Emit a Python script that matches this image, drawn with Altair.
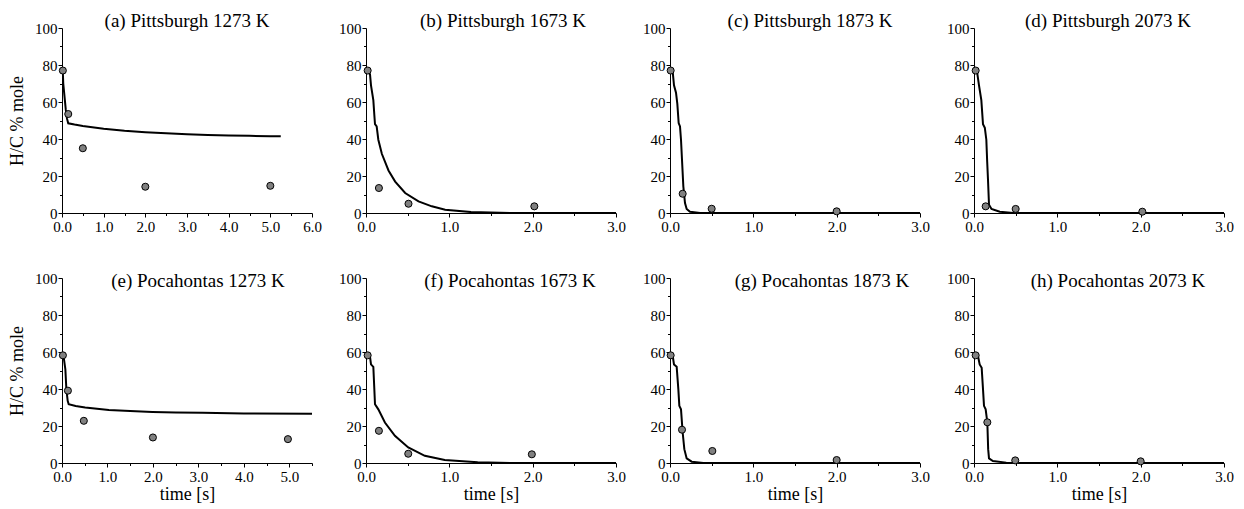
import altair as alt
import pandas as pd

# ---------------- data ----------------
titles = ["(a) Pittsburgh 1273 K", "(b) Pittsburgh 1673 K", "(c) Pittsburgh 1873 K", "(d) Pittsburgh 2073 K",
          "(e) Pocahontas 1273 K", "(f) Pocahontas 1673 K", "(g) Pocahontas 1873 K", "(h) Pocahontas 2073 K"]
x_max = [6.0, 3.0, 3.0, 3.0, 5.5, 3.0, 3.0, 3.0]
y_ticks = [0, 10, 20, 30, 40, 50, 60, 70, 80, 90, 100]

# model curves
a_model_t = [0.0, 0.02, 0.03, 0.06, 0.09, 0.12, 0.15, 0.3, 0.5, 1.0, 1.5, 2.0, 2.5, 3.0, 3.5, 4.0, 4.5, 5.0, 5.25]
a_model_y = [77, 76, 70, 63, 56, 51, 48.5, 47.8, 47, 45.6, 44.5, 43.7, 43.1, 42.6, 42.2, 41.9, 41.7, 41.5, 41.5]
b_model_t = [0.0, 0.03, 0.048, 0.06, 0.088, 0.10, 0.108, 0.128, 0.148, 0.19, 0.27, 0.35, 0.47, 0.63, 0.79, 0.95, 1.26, 1.74, 3.0]
b_model_y = [77, 76.5, 75, 69, 61, 53, 48, 46.8, 39.6, 32, 23, 17, 10.8, 6.3, 3.6, 1.8, 0.5, 0.0, 0.0]
c_model_t = [0.0, 0.032, 0.048, 0.072, 0.088, 0.104, 0.12, 0.132, 0.144, 0.16, 0.18, 0.2, 0.24, 0.36, 3.0]
c_model_y = [77, 76.5, 69, 65, 59, 48.6, 46.8, 39.6, 28.8, 14.4, 5.4, 2.2, 0.7, 0.0, 0.0]
d_model_t = [0.0, 0.036, 0.06, 0.088, 0.108, 0.13, 0.148, 0.158, 0.168, 0.18, 0.21, 0.31, 0.47, 3.0]
d_model_y = [77, 76.5, 69, 61, 48, 46, 39.6, 28, 18, 4.5, 2.2, 0.7, 0.0, 0.0]
e_model_t = [0.0, 0.044, 0.074, 0.096, 0.125, 0.147, 0.3, 0.51, 1.03, 1.5, 1.99, 2.5, 3.09, 4.0, 5.5]
e_model_y = [58.7, 56, 50.6, 39.9, 33.6, 31.8, 30.8, 30, 28.7, 28.1, 27.6, 27.3, 27.1, 26.8, 26.6]
f_model_t = [0.0, 0.048, 0.06, 0.088, 0.10, 0.108, 0.148, 0.227, 0.347, 0.507, 0.706, 0.945, 1.34, 1.74, 3.0]
f_model_y = [58.7, 57.5, 53.3, 52, 39.9, 31.8, 29, 21.9, 14.7, 8.4, 3.9, 1.6, 0.4, 0.0, 0.0]
g_model_t = [0.0, 0.032, 0.048, 0.08, 0.10, 0.112, 0.132, 0.152, 0.172, 0.2, 0.26, 0.4, 3.0]
g_model_y = [58.7, 58, 53.3, 52, 39.9, 30.9, 29, 16.5, 7.5, 2.5, 0.7, 0.0, 0.0]
h_model_t = [0.0, 0.048, 0.068, 0.092, 0.108, 0.12, 0.14, 0.16, 0.17, 0.18, 0.227, 0.387, 0.547, 3.0]
h_model_y = [58.7, 57.8, 53.3, 51.5, 39.9, 30.9, 29, 21.9, 7.5, 2.5, 1.1, 0.2, 0.0, 0.0]

# experimental points
a_exp_t = [0.02, 0.15, 0.5, 2.0, 5.0]
a_exp_y = [77, 53.5, 35, 14.2, 14.7]
b_exp_t = [0.02, 0.155, 0.51, 2.02]
b_exp_y = [77, 13.5, 5.0, 3.6]
c_exp_t = [0.008, 0.152, 0.5, 2.0]
c_exp_y = [77, 10.4, 2.3, 0.9]
d_exp_t = [0.02, 0.14, 0.5, 2.02]
d_exp_y = [77, 3.6, 2.2, 0.7]
e_exp_t = [0.02, 0.13, 0.48, 2.0, 4.97]
e_exp_y = [58.2, 39.1, 22.8, 13.8, 12.9]
f_exp_t = [0.02, 0.155, 0.507, 1.99]
f_exp_y = [58.2, 17.4, 5.0, 4.7]
g_exp_t = [0.008, 0.144, 0.508, 2.0]
g_exp_y = [58.2, 18.0, 6.5, 1.6]
h_exp_t = [0.02, 0.16, 0.495, 2.0]
h_exp_y = [58.2, 22.0, 1.4, 0.9]

models = [(a_model_t, a_model_y), (b_model_t, b_model_y), (c_model_t, c_model_y), (d_model_t, d_model_y),
          (e_model_t, e_model_y), (f_model_t, f_model_y), (g_model_t, g_model_y), (h_model_t, h_model_y)]
exps = [(a_exp_t, a_exp_y), (b_exp_t, b_exp_y), (c_exp_t, c_exp_y), (d_exp_t, d_exp_y),
        (e_exp_t, e_exp_y), (f_exp_t, f_exp_y), (g_exp_t, g_exp_y), (h_exp_t, h_exp_y)]

# title placement (pixels relative to plot area)
title_x = [125, 137, 140, 134, 136, 144, 152, 144]
title_y = [-7, -7, -7, -7, 3, 3, 3, 3]

FONT = "Liberation Serif"
W, H = 250, 185


def panel(i):
    mt, my = models[i]
    et, ey = exps[i]
    dm = pd.DataFrame({"t": mt, "y": my})
    de = pd.DataFrame({"t": et, "y": ey})
    xm = x_max[i]
    xvals = [k * 0.5 for k in range(int(round(xm / 0.5)) + 1)]
    left = i % 4 == 0
    bottom = i >= 4
    xaxis = alt.Axis(
        values=xvals,
        labelExpr="(datum.value % 1 === 0) ? format(datum.value, '.1f') : ''",
        tickSize={"condition": {"test": "datum.value % 1 !== 0", "value": 2.5}, "value": 4},
        title="time [s]" if bottom else None,
        titleFontSize=18, titleFont=FONT, titleFontWeight="normal", titlePadding=1,
        labelFontSize=15, labelFont=FONT, labelPadding=2, grid=False,
        labelOverlap=False, labelFlush=False,
    )
    yaxis = alt.Axis(
        values=y_ticks,
        labelExpr="(datum.value % 20 === 0) ? format(datum.value, 'd') : ''",
        tickSize={"condition": {"test": "datum.value % 20 !== 0", "value": 2.5}, "value": 4},
        title="H/C % mole" if left else None,
        titleFontSize=18, titleFont=FONT, titleFontWeight="normal", titlePadding=8,
        labelFontSize=15, labelFont=FONT, labelPadding=1, grid=False,
        labelOverlap=False, labelFlush=False, labelBound=False,
    )
    xs = alt.Scale(domain=[0, xm], nice=False, zero=True)
    ys = alt.Scale(domain=[0, 100], nice=False)
    enc_x = alt.X("t:Q", scale=xs, axis=xaxis)
    enc_y = alt.Y("y:Q", scale=ys, axis=yaxis)
    line = alt.Chart(dm).mark_line(color="black", strokeWidth=2, clip=True).encode(x=enc_x, y=enc_y)
    pts = alt.Chart(de).mark_point(filled=True, fill="#808080", stroke="black", strokeWidth=1,
                                   size=50, opacity=1, shape="circle").encode(x=enc_x, y=enc_y)
    ttl = alt.Chart(pd.DataFrame({"label": [titles[i]]})).mark_text(
        font=FONT, fontSize=19, color="black", align="center", baseline="middle"
    ).encode(
        text="label:N", x=alt.value(title_x[i]), y=alt.value(title_y[i])
    )
    return alt.layer(line, pts, ttl).properties(width=W, height=H)


chart = alt.concat(*[panel(i) for i in range(8)], columns=4,
                   spacing=alt.RowColnumber(row=65, column=54), bounds="flush").properties(
    padding={"left": 0, "top": 4, "right": 0, "bottom": 0}
).configure_view(stroke=None).configure_axis(
    domainColor="black", tickColor="black", labelColor="black", titleColor="black", domainWidth=1
)

chart.save("out.html", embed_options={"renderer": "svg", "actions": False})
